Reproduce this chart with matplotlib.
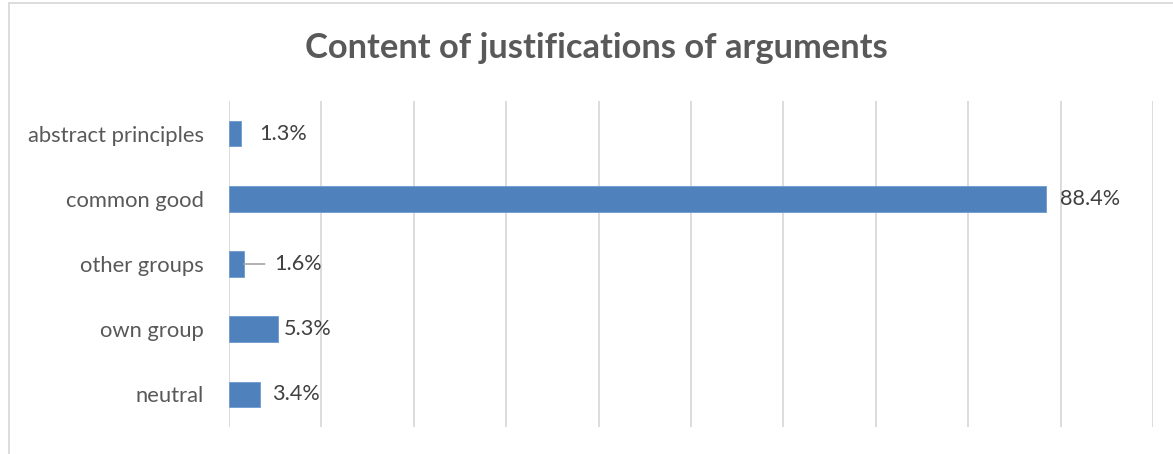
import matplotlib
matplotlib.use("Agg")
import matplotlib.pyplot as plt
from matplotlib.patches import Rectangle

categories = ["abstract principles", "common good", "other groups", "own group", "neutral"]
shares = [1.3, 88.4, 1.6, 5.3, 3.4]
labels = ["1.3%", "88.4%", "1.6%", "5.3%", "3.4%"]
# label gap from the bar end (pixels); "other groups" gets a leader line
gaps = [18, 14, 30, 6, 12]
leader = [0, 0, 21, 0, 0]

BLUE = "#4F81BD"; GRID = "#D9D9D9"; TXT = "#595959"; LBL = "#404040"
FONT = "Lato"

W, H = 1173, 454
fig = plt.figure(figsize=(W / 100, H / 100), dpi=100)
ax = fig.add_axes([229 / W, (H - 427) / H, (1153 - 229) / W, (427 - 101) / H])

y = range(len(categories))
ax.barh(y, shares, height=0.39, color=BLUE, edgecolor="#6F9AD0", linewidth=0.6, zorder=3)
ax.set_xlim(0, 100)
ax.set_ylim(len(categories) - 0.5, -0.5)
ax.set_xticks(range(0, 101, 10))
ax.set_xticklabels([])
ax.tick_params(axis="x", length=0)
ax.tick_params(axis="y", length=0, pad=18)
ax.set_yticks(list(y))
ax.set_yticklabels(categories, fontsize=15.8, color=TXT, family=FONT)
ax.grid(axis="x", color=GRID, linewidth=1.3, zorder=0)
for s in ax.spines.values():
    s.set_visible(False)

for i, (v, t) in enumerate(zip(shares, labels)):
    ax.annotate(t, xy=(v, i), xytext=(gaps[i], 0), textcoords="offset pixels",
                ha="left", va="center", fontsize=15.6, color=LBL, family=FONT)
    if leader[i]:
        ax.annotate("", xy=(v, i), xytext=(leader[i], 0), textcoords="offset pixels",
                    arrowprops=dict(arrowstyle="-", color="#A6A6A6", lw=1.2,
                                    shrinkA=0, shrinkB=0))

# chart frame
fig.patches.append(Rectangle((9 / W, -0.1), 1.2, (H - 3) / H + 0.1, transform=fig.transFigure,
                             fill=False, edgecolor=GRID, linewidth=1.3))

fig.text(596 / W, 1 - 48 / H, "Content of justifications of arguments", ha="center", va="center",
         fontsize=24.8, fontweight="bold", color=TXT, family=FONT)

fig.savefig("out.png", dpi=100)
